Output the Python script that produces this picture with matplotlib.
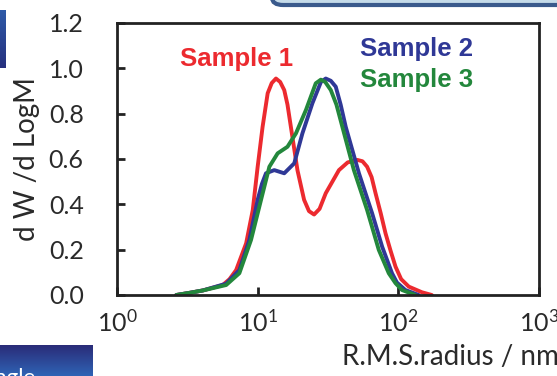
import matplotlib.pyplot as plt
import matplotlib.patches as mpatches
import numpy as np

# radius (nm) and dW/dLogM values
r_s1 = [2.64, 3.31, 4.07, 5.65, 6.31, 7.03, 8.28, 9.23, 10.0, 10.84, 11.78, 12.59, 13.49,
        14.45, 15.45, 16.29, 17.22, 19.19, 21.38, 23.17, 25.18, 27.54, 30.48, 37.84, 43.65,
        51.05, 55.59, 59.98, 64.57, 68.87, 75.0, 81.1, 88.1, 95.5, 104.7, 118.6, 147.2, 173.0]
w_s1 = [0.0, 0.01, 0.02, 0.044, 0.07, 0.11, 0.228, 0.375, 0.566, 0.742, 0.89, 0.935, 0.955,
        0.94, 0.904, 0.84, 0.742, 0.55, 0.42, 0.37, 0.355, 0.38, 0.449, 0.551, 0.585,
        0.596, 0.59, 0.566, 0.52, 0.449, 0.36, 0.272, 0.195, 0.125, 0.07, 0.037, 0.012, 0.0]

r_s2 = [2.64, 3.31, 4.07, 5.97, 7.41, 8.73, 10.0, 10.72, 11.46, 13.12, 15.45, 18.2, 20.8,
        24.5, 28.18, 30.48, 33.11, 35.9, 38.9, 42.27, 52.48, 65.16, 76.74, 90.16, 97.7,
        112.2, 139.3]
w_s2 = [0.0, 0.01, 0.02, 0.05, 0.11, 0.243, 0.42, 0.49, 0.537, 0.551, 0.537, 0.581, 0.713,
        0.846, 0.94, 0.955, 0.945, 0.919, 0.84, 0.742, 0.537, 0.36, 0.213, 0.096, 0.055,
        0.022, 0.0]

r_s3 = [2.64, 3.31, 4.07, 5.97, 7.41, 8.97, 10.57, 12.11, 13.87, 16.29, 18.71, 22.03,
        25.88, 28.12, 30.2, 33.11, 36.3, 40.0, 48.31, 59.98, 72.61, 85.5, 95.5, 106.2, 131.8]
w_s3 = [0.0, 0.01, 0.02, 0.044, 0.096, 0.243, 0.42, 0.566, 0.625, 0.654, 0.713, 0.816,
        0.934, 0.95, 0.94, 0.904, 0.84, 0.742, 0.551, 0.375, 0.199, 0.096, 0.052, 0.022, 0.0]

names = ['Sample 1', 'Sample 2', 'Sample 3']
colors = ['#ec2a2f', '#2f3896', '#23873c']

W, H = 557, 376
fig = plt.figure(figsize=(W / 100, H / 100), dpi=100)
plt.rcParams['font.family'] = ['Lato', 'DejaVu Sans']
plt.rcParams['mathtext.default'] = 'regular'

# slide decorations around the chart
fig.patches.append(mpatches.FancyBboxPatch((272 / W, (H - 5) / H), 400 / W, 40 / H,
                                           boxstyle='round,pad=0,rounding_size=0.02',
                                           transform=fig.transFigure, facecolor='#c5dbe9',
                                           edgecolor='#3a5a8c', lw=3, zorder=0))
grad = np.linspace(0, 1, 50).reshape(-1, 1)
cm = plt.matplotlib.colors.LinearSegmentedColormap
tl = fig.add_axes([0, (H - 68) / H, 6 / W, 58 / H])
tl.imshow(grad, aspect='auto', cmap=cm.from_list('b', ['#2e5aa8', '#26307e']))
tl.axis('off')
bl = fig.add_axes([0, 0, 93 / W, 31 / H])
bl.imshow(grad, aspect='auto', cmap=cm.from_list('b2', ['#2a2c78', '#2f63b5']))
bl.axis('off')
bl.text(-0.18, -0.25, 'angle', color='white', fontsize=16, transform=bl.transAxes, clip_on=True)

ax = fig.add_axes([117 / W, (H - 295) / H, 422 / W, 272 / H])
for r, w, c in zip([r_s1, r_s2, r_s3], [w_s1, w_s2, w_s3], colors):
    ax.plot(r, w, color=c, lw=2.8, solid_joinstyle='round', solid_capstyle='round')

ax.set_xscale('log')
ax.set_xlim(1, 1000)
ax.set_ylim(0, 1.2)
ax.set_yticks([0, 0.2, 0.4, 0.6, 0.8, 1.0, 1.2])
ax.set_yticklabels(['0.0', '0.2', '0.4', '0.6', '0.8', '1.0', '1.2'])
ax.minorticks_off()
ax.tick_params(axis='both', direction='in', length=6, width=2, color='#222222',
               labelsize=18, labelcolor='#2a2a2a')
ax.tick_params(axis='y', pad=24)
ax.tick_params(axis='x', pad=10)
for s in ax.spines.values():
    s.set_linewidth(2)
    s.set_color('#222222')

ax.set_ylabel('d W /d LogM', fontsize=20, color='#2a2a2a', labelpad=6)
fig.text(450 / W, (H - 357) / H, 'R.M.S.radius / nm', fontsize=20, color='#2a2a2a',
         ha='center', va='center')

fig.text(180 / W, (H - 66) / H, names[0], color=colors[0], fontsize=18.5,
         fontweight='bold', family='Liberation Sans', va='baseline')
fig.text(360 / W, (H - 56) / H, names[1], color=colors[1], fontsize=18.5,
         fontweight='bold', family='Liberation Sans', va='baseline')
fig.text(360 / W, (H - 87) / H, names[2], color=colors[2], fontsize=18.5,
         fontweight='bold', family='Liberation Sans', va='baseline')

fig.savefig('out.png', dpi=100)
